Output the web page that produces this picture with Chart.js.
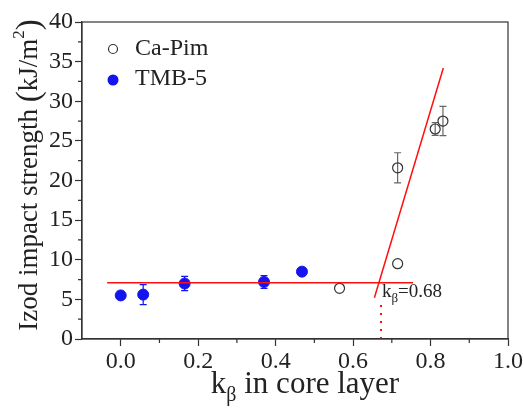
<!DOCTYPE html>
<html lang="en">
<head>
    <meta charset="UTF-8">
    <title>Izod impact strength vs k-beta</title>
    <script src="https://cdn.jsdelivr.net/npm/chart.js"></script>
    <style>
        body { margin: 0; background: #fff; }
    </style>
</head>
<body>
    <canvas id="impactChart" width="524" height="410"></canvas>
    <script>
        // Ca-Pim (open circles)
        const capimX = [0.565, 0.715, 0.715, 0.812, 0.832];
        const capimY = [6.4, 9.5, 21.6, 26.5, 27.5];
        const capimErr = [0, 0, 1.9, 0.8, 1.85];

        // TMB-5 (filled blue)
        const tmbX = [0.0, 0.058, 0.165, 0.37, 0.468];
        const tmbY = [5.5, 5.6, 7.0, 7.2, 8.5];
        const tmbErr = [0.5, 1.25, 0.9, 0.8, 0];

        // fitted lines
        const flatFitX = [-0.035, 0.755];
        const flatFitY = [7.1, 7.1];
        const steepFitX = [0.655, 0.833];
        const steepFitY = [5.2, 34.2];
        const kBeta = 0.672;
        const kBetaLineY = [0, 5];

        // ticks
        const xTicks = [0, 0.2, 0.4, 0.6, 0.8, 1.0];
        const xMinor = [0.1, 0.3, 0.5, 0.7, 0.9];
        const yTicks = [0, 5, 10, 15, 20, 25, 30, 35, 40];
        const yMinor = [2.5, 7.5, 12.5, 17.5, 22.5, 27.5, 32.5, 37.5];

        const serif = '"Liberation Serif", "Times New Roman", serif';
        const axisColor = '#333';

        const toPoints = (xs, ys) => xs.map((x, i) => ({ x: x, y: ys[i] }));

        // draws a run of [text, size, dy] pieces left to right, returns end x
        function drawRun(ctx, parts, x, y) {
            parts.forEach(p => {
                ctx.font = p[1] + 'px ' + serif;
                ctx.fillText(p[0], x, y + (p[2] || 0));
                x += ctx.measureText(p[0]).width;
            });
            return x;
        }
        function runWidth(ctx, parts) {
            let w = 0;
            parts.forEach(p => {
                ctx.font = p[1] + 'px ' + serif;
                w += ctx.measureText(p[0]).width;
            });
            return w;
        }

        // error bars, frame, minor ticks, titles, legend and label
        const extras = {
            id: 'extras',
            beforeDatasetsDraw(chart) {
                const ctx = chart.ctx;
                const xs = chart.scales.x, ys = chart.scales.y;
                ctx.save();
                chart.data.datasets.forEach(ds => {
                    if (!ds.errors) return;
                    ctx.strokeStyle = ds.errorColor;
                    ctx.lineWidth = 1.2;
                    ds.data.forEach((p, i) => {
                        const e = ds.errors[i];
                        if (!e) return;
                        const px = xs.getPixelForValue(p.x);
                        const top = ys.getPixelForValue(p.y + e);
                        const bot = ys.getPixelForValue(p.y - e);
                        ctx.beginPath();
                        ctx.moveTo(px, top); ctx.lineTo(px, bot);
                        ctx.moveTo(px - 3.5, top); ctx.lineTo(px + 3.5, top);
                        ctx.moveTo(px - 3.5, bot); ctx.lineTo(px + 3.5, bot);
                        ctx.stroke();
                    });
                });
                ctx.restore();
            },
            afterDraw(chart) {
                const ctx = chart.ctx;
                const a = chart.chartArea;
                const xs = chart.scales.x, ys = chart.scales.y;
                ctx.save();
                // frame
                ctx.strokeStyle = axisColor;
                ctx.lineWidth = 1.2;
                ctx.strokeRect(a.left, a.top, a.right - a.left, a.bottom - a.top);
                // minor ticks
                ctx.beginPath();
                xMinor.forEach(v => {
                    const px = xs.getPixelForValue(v);
                    ctx.moveTo(px, a.bottom); ctx.lineTo(px, a.bottom + 4);
                });
                yMinor.forEach(v => {
                    const py = ys.getPixelForValue(v);
                    ctx.moveTo(a.left, py); ctx.lineTo(a.left - 4, py);
                });
                ctx.stroke();

                ctx.fillStyle = '#222';
                ctx.textBaseline = 'alphabetic';
                ctx.textAlign = 'left';

                // x title with subscript beta
                const xParts = [['k', 31], ['\u03b2', 20, 8], [' in core layer', 31]];
                const xw = runWidth(ctx, xParts);
                drawRun(ctx, xParts, 305 - xw / 2, 393);

                // y title, rotated
                const yParts = [['Izod impact strength ', 27], ['(', 33, 2], ['kJ/m', 27], ['2', 17, -13], [')', 33, 2]];
                const yw = runWidth(ctx, yParts);
                ctx.save();
                ctx.translate(37, 175);
                ctx.rotate(-Math.PI / 2);
                drawRun(ctx, yParts, -yw / 2, 0);
                ctx.restore();

                // legend
                ctx.font = '24px ' + serif;
                ctx.textBaseline = 'middle';
                ctx.lineWidth = 1.2;
                ctx.strokeStyle = axisColor;
                ctx.beginPath();
                ctx.arc(a.left + 31, a.top + 27, 4.5, 0, Math.PI * 2);
                ctx.stroke();
                ctx.fillText('Ca-Pim', a.left + 53, a.top + 27);
                ctx.fillStyle = '#1414ee';
                ctx.beginPath();
                ctx.arc(a.left + 31, a.top + 58, 5.5, 0, Math.PI * 2);
                ctx.fill();
                ctx.fillStyle = '#222';
                ctx.fillText('TMB-5', a.left + 53, a.top + 57);

                // k_beta label
                ctx.textBaseline = 'alphabetic';
                const lx = xs.getPixelForValue(kBeta) + 1;
                const ly = ys.getPixelForValue(flatFitY[0]) + 14;
                drawRun(ctx, [['k', 19], ['\u03b2', 13, 5], ['=0.68', 19]], lx, ly);
                ctx.restore();
            }
        };

        const ctx = document.getElementById('impactChart').getContext('2d');
        const impactChart = new Chart(ctx, {
            type: 'scatter',
            data: {
                datasets: [
                    {
                        label: 'flat fit',
                        data: toPoints(flatFitX, flatFitY),
                        showLine: true,
                        borderColor: '#ff1010',
                        borderWidth: 1.5,
                        pointRadius: 0
                    },
                    {
                        label: 'steep fit',
                        data: toPoints(steepFitX, steepFitY),
                        showLine: true,
                        borderColor: '#ff1010',
                        borderWidth: 1.5,
                        pointRadius: 0
                    },
                    {
                        label: 'k beta',
                        data: toPoints([kBeta, kBeta], kBetaLineY),
                        showLine: true,
                        borderColor: '#ff1010',
                        borderWidth: 2,
                        borderDash: [2, 6],
                        pointRadius: 0
                    },
                    {
                        label: 'Ca-Pim',
                        data: toPoints(capimX, capimY),
                        errors: capimErr,
                        errorColor: '#666',
                        pointRadius: 5,
                        pointBackgroundColor: 'rgba(255,255,255,0)',
                        pointBorderColor: '#333',
                        pointBorderWidth: 1.2
                    },
                    {
                        label: 'TMB-5',
                        data: toPoints(tmbX, tmbY),
                        errors: tmbErr,
                        errorColor: '#1414ee',
                        pointRadius: 5.5,
                        pointBackgroundColor: '#1414ee',
                        pointBorderColor: '#1414ee',
                        pointBorderWidth: 1
                    }
                ]
            },
            options: {
                responsive: false,
                animation: false,
                layout: { padding: { left: 0, right: 15, top: 22, bottom: 0 } },
                plugins: {
                    legend: { display: false },
                    tooltip: { enabled: false }
                },
                scales: {
                    x: {
                        type: 'linear',
                        min: -0.1,
                        max: 1.0,
                        afterBuildTicks: s => { s.ticks = xTicks.map(v => ({ value: v })); },
                        afterFit: s => { s.height = 71; },
                        ticks: {
                            callback: v => v.toFixed(1),
                            font: { family: serif, size: 24 },
                            color: '#222',
                            padding: 1
                        },
                        grid: {
                            drawOnChartArea: false,
                            tickLength: 7,
                            color: axisColor,
                            tickWidth: 1.2
                        },
                        border: { color: axisColor, width: 1.2 }
                    },
                    y: {
                        type: 'linear',
                        min: 0,
                        max: 40,
                        afterBuildTicks: s => { s.ticks = yTicks.map(v => ({ value: v })); },
                        afterFit: s => { s.width = 82; },
                        ticks: {
                            font: { family: serif, size: 24 },
                            color: '#222',
                            padding: 2
                        },
                        grid: {
                            drawOnChartArea: false,
                            tickLength: 7,
                            color: axisColor,
                            tickWidth: 1.2
                        },
                        border: { color: axisColor, width: 1.2 }
                    }
                }
            },
            plugins: [extras]
        });
    </script>
</body>
</html>
